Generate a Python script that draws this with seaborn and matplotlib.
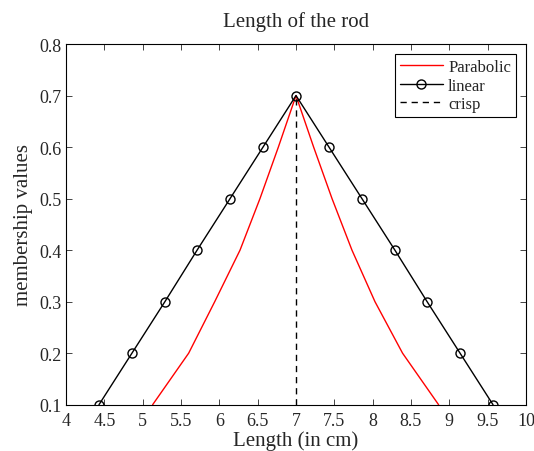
import pandas as pd
import matplotlib.pyplot as plt
import seaborn as sns

# membership grades
mu = [0.1, 0.2, 0.3, 0.4, 0.5, 0.6, 0.7, 0.6, 0.5, 0.4, 0.3, 0.2, 0.1]

# lengths (cm)
x_parabolic = [5.13, 5.60, 5.94, 6.27, 6.53, 6.77, 7.0, 7.23, 7.47, 7.73, 8.03, 8.39, 8.86]
x_linear = [4.43, 4.86, 5.29, 5.71, 6.14, 6.57, 7.0, 7.43, 7.86, 8.29, 8.71, 9.14, 9.57]
x_crisp = [7.0, 7.0]
mu_crisp = [0.1, 0.7]

df_par = pd.DataFrame({'x': x_parabolic, 'y': mu})
df_lin = pd.DataFrame({'x': x_linear, 'y': mu})
df_crisp = pd.DataFrame({'x': x_crisp, 'y': mu_crisp})

sns.set_style('ticks')
plt.rcParams['font.family'] = ['Liberation Serif', 'DejaVu Serif']
plt.rcParams['xtick.direction'] = 'in'
plt.rcParams['ytick.direction'] = 'in'

fig = plt.figure(figsize=(5.34, 4.52), dpi=100)
ax = fig.add_axes([0.1236, 0.1024, 0.8614, 0.798])

sns.lineplot(data=df_par, x='x', y='y', sort=False, estimator=None, color='red',
             lw=1.0, label='Parabolic', ax=ax)
sns.lineplot(data=df_lin, x='x', y='y', sort=False, estimator=None, color='black',
             lw=1.0, marker='o', markersize=6.5, markerfacecolor='none',
             markeredgecolor='black', markeredgewidth=1.0, label='linear', ax=ax)
sns.lineplot(data=df_crisp, x='x', y='y', sort=False, estimator=None, color='black',
             lw=1.0, label='crisp', ax=ax)
ax.lines[-1].set_linestyle((0, (4.5, 3.5)))

ax.set_xlim(4, 10)
ax.set_ylim(0.1, 0.8)
ax.set_xticks([4, 4.5, 5, 5.5, 6, 6.5, 7, 7.5, 8, 8.5, 9, 9.5, 10])
ax.set_xticklabels(['4', '4.5', '5', '5.5', '6', '6.5', '7', '7.5', '8', '8.5', '9', '9.5', '10'])
ax.set_yticks([0.1, 0.2, 0.3, 0.4, 0.5, 0.6, 0.7, 0.8])
ax.tick_params(top=True, right=True, labelsize=13, length=4, width=0.6)
ax.tick_params(axis='x', pad=5)
ax.tick_params(axis='y', pad=3)
for s in ax.spines.values():
    s.set_linewidth(0.8)
    s.set_color('black')

ax.set_title('Length of the rod', fontsize=15, pad=13)
ax.set_xlabel('Length (in cm)', fontsize=15, labelpad=1)
ax.set_ylabel('membership values', fontsize=15, labelpad=5)

leg = ax.legend(loc='upper right', fontsize=12, frameon=True, fancybox=False,
                edgecolor='black', framealpha=1, borderpad=0.3, labelspacing=0.15,
                handlelength=2.6, handletextpad=0.3, borderaxespad=0.6)
leg.get_frame().set_linewidth(0.8)

plt.savefig('out.png', dpi=100)
